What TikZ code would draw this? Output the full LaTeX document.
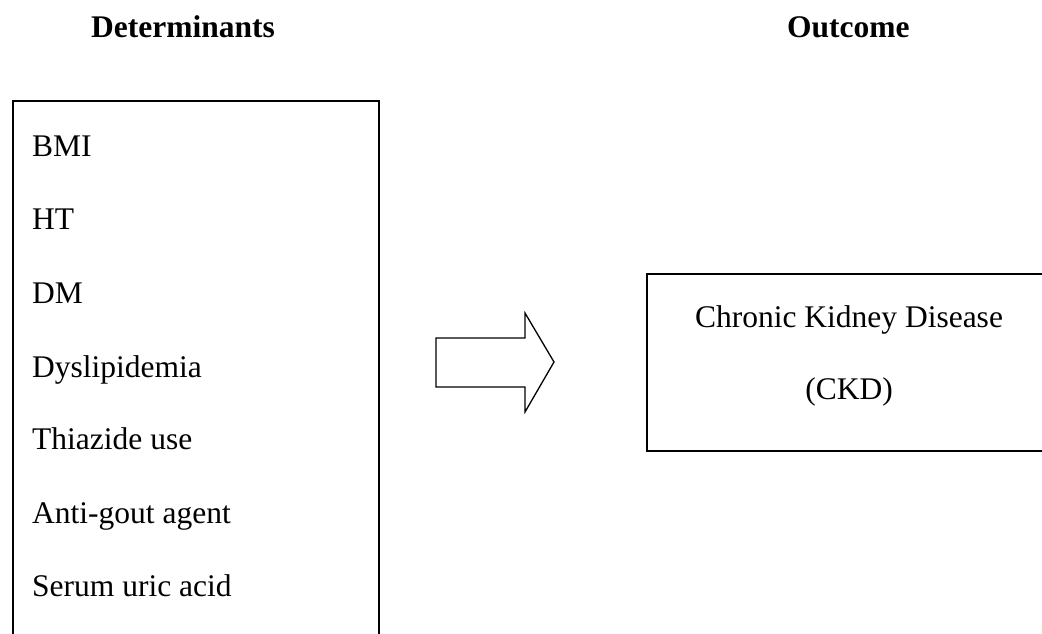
\documentclass[tikz,border=0pt]{standalone}
\usepackage{fontspec}
\setmainfont{Liberation Serif}
\begin{document}
\begin{tikzpicture}[x=1pt,y=-1pt,
  boxline/.style={draw=black,line width=1.6pt},
  item/.style={anchor=base west,inner sep=0pt,font=\fontsize{31.5}{37}\selectfont},
  head/.style={anchor=base west,inner sep=0pt,font=\fontsize{31.5}{37}\selectfont\bfseries},
  ctext/.style={anchor=base,inner sep=0pt,font=\fontsize{31.5}{37}\selectfont}]
\useasboundingbox (0,0) rectangle (1042,633);
\clip (0,0) rectangle (1042,633);
\fill[white] (0,0) rectangle (1042,633);
% headings
\node[head] (hdet) at (91,37) {Determinants};
\node[head] (hout) at (787,37) {Outcome};
% left box (bottom runs off the page)
\node[boxline,minimum width=366pt,minimum height=580pt,anchor=north west,inner sep=0pt] (det) at (12,100) {};
\node[item] (i1) at (32,156) {BMI};
\node[item] (i2) at (32,229) {HT};
\node[item] (i3) at (32,303) {DM};
\node[item] (i4) at (32,377) {Dyslipidemia};
\node[item] (i5) at (32,449) {Thiazide use};
\node[item] (i6) at (32,523) {Anti-gout agent};
\node[item] (i7) at (32,596) {Serum uric acid};
% right box (right side runs off the page)
\node[boxline,minimum width=430pt,minimum height=177pt,anchor=north west,inner sep=0pt] (out) at (646,273) {};
\node[ctext] (o1) at (849,327) {Chronic Kidney Disease};
\node[ctext] (o2) at (849,399) {(CKD)};
% block arrow
\draw[line width=1.3pt,line join=miter] (436,338) -- (525,338) -- (525,313) -- (554,362) -- (525,412) -- (525,387) -- (436,387) -- cycle;
\end{tikzpicture}
\end{document}
